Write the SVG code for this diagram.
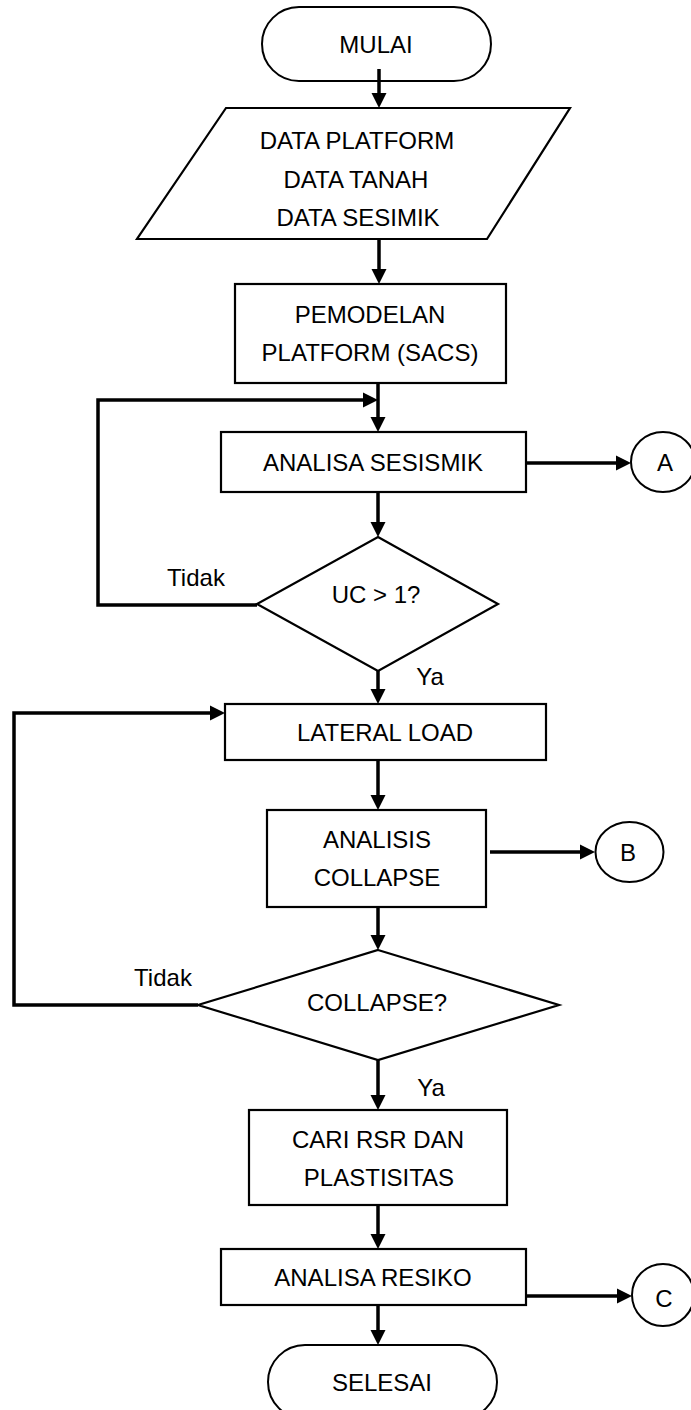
<svg xmlns="http://www.w3.org/2000/svg" width="691" height="1410" viewBox="0 0 691 1410">
  <style>
    .shape { fill: #ffffff; stroke: #000000; stroke-width: 2.2; }
    .term { fill: #ffffff; stroke: #000000; stroke-width: 2; }
    .conn { fill: none; stroke: #000000; stroke-width: 3.5; stroke-linejoin: miter; }
    .label { font-family: "Liberation Sans", Arial, sans-serif; font-size: 24px; fill: #000000; text-anchor: middle; }
  </style>
  <defs>
    <marker id="arrow" markerUnits="userSpaceOnUse" markerWidth="16" markerHeight="16" viewBox="0 0 16 16" refX="9" refY="8" orient="auto">
      <path d="M0,0.5 L15,8 L0,15.5 z" fill="#000000"/>
    </marker>
  </defs>

  <rect width="691" height="1410" fill="#ffffff"/>

  <g id="mulai">
    <rect class="term" x="262" y="7" width="229" height="74" rx="37" ry="37"/>
    <text class="label" x="376" y="53">MULAI</text>
  </g>

  <g id="data-input">
    <polygon class="shape" points="226,108 570,108 487,239 137,239"/>
    <text class="label" x="357" y="149">DATA PLATFORM</text>
    <text class="label" x="356" y="188">DATA TANAH</text>
    <text class="label" x="358" y="226">DATA SESIMIK</text>
  </g>

  <g id="pemodelan">
    <rect class="shape" x="235" y="284" width="271" height="99"/>
    <text class="label" x="370" y="323">PEMODELAN</text>
    <text class="label" x="370" y="361">PLATFORM (SACS)</text>
  </g>

  <g id="analisa-sesismik">
    <rect class="shape" x="221" y="432" width="305" height="60"/>
    <text class="label" x="373" y="471">ANALISA SESISMIK</text>
  </g>

  <g id="conn-a">
    <ellipse class="term" cx="663" cy="462" rx="32" ry="30"/>
    <text class="label" x="665" y="471">A</text>
  </g>

  <g id="uc-check">
    <polygon class="shape" points="378,537 498,604 378,671 257,604"/>
    <text class="label" x="376" y="603">UC &gt; 1?</text>
    <text class="label" x="196" y="586">Tidak</text>
    <text class="label" x="430" y="685">Ya</text>
  </g>

  <g id="lateral-load">
    <rect class="shape" x="225" y="704" width="321" height="56"/>
    <text class="label" x="385" y="741">LATERAL LOAD</text>
  </g>

  <g id="analisis-collapse">
    <rect class="shape" x="267" y="810" width="219" height="97"/>
    <text class="label" x="377" y="848">ANALISIS</text>
    <text class="label" x="377" y="886">COLLAPSE</text>
  </g>

  <g id="conn-b">
    <ellipse class="term" cx="629.5" cy="852" rx="34" ry="30"/>
    <text class="label" x="628" y="861">B</text>
  </g>

  <g id="collapse-check">
    <polygon class="shape" points="378,950 559,1005 378,1060 198,1005"/>
    <text class="label" x="377" y="1011">COLLAPSE?</text>
    <text class="label" x="163" y="986">Tidak</text>
    <text class="label" x="431" y="1096">Ya</text>
  </g>

  <g id="cari-rsr">
    <rect class="shape" x="249" y="1110" width="258" height="95"/>
    <text class="label" x="378" y="1148">CARI RSR DAN</text>
    <text class="label" x="379" y="1186">PLASTISITAS</text>
  </g>

  <g id="analisa-resiko">
    <rect class="shape" x="221" y="1249" width="305" height="56"/>
    <text class="label" x="373" y="1286">ANALISA RESIKO</text>
  </g>

  <g id="conn-c">
    <ellipse class="term" cx="663" cy="1295" rx="31" ry="31"/>
    <text class="label" x="664" y="1307">C</text>
  </g>

  <g id="selesai">
    <rect class="term" x="268" y="1345" width="229" height="74" rx="37" ry="37"/>
    <text class="label" x="382" y="1391">SELESAI</text>
  </g>

  <!-- connectors, drawn last so the first one shows inside the start terminator -->
  <g id="connectors">
    <line class="conn" x1="379" y1="69" x2="379" y2="102" marker-end="url(#arrow)"/>
    <line class="conn" x1="379" y1="239" x2="379" y2="278" marker-end="url(#arrow)"/>
    <line class="conn" x1="378" y1="383" x2="378" y2="426" marker-end="url(#arrow)"/>
    <line class="conn" x1="378" y1="492" x2="378" y2="531" marker-end="url(#arrow)"/>
    <line class="conn" x1="378" y1="671" x2="378" y2="698" marker-end="url(#arrow)"/>
    <line class="conn" x1="378" y1="760" x2="378" y2="804" marker-end="url(#arrow)"/>
    <line class="conn" x1="378" y1="907" x2="378" y2="944" marker-end="url(#arrow)"/>
    <line class="conn" x1="378" y1="1059" x2="378" y2="1104" marker-end="url(#arrow)"/>
    <line class="conn" x1="378" y1="1205" x2="378" y2="1243" marker-end="url(#arrow)"/>
    <line class="conn" x1="378" y1="1305" x2="378" y2="1339" marker-end="url(#arrow)"/>
    <!-- side exits to connectors A, B, C -->
    <line class="conn" x1="526" y1="463" x2="625" y2="463" marker-end="url(#arrow)"/>
    <line class="conn" x1="490" y1="852" x2="589" y2="852" marker-end="url(#arrow)"/>
    <line class="conn" x1="526" y1="1296" x2="626" y2="1296" marker-end="url(#arrow)"/>
    <!-- "Tidak" loops -->
    <path class="conn" d="M257,605 L98,605 L98,400 L372,400" marker-end="url(#arrow)"/>
    <path class="conn" d="M198,1005 L14,1005 L14,713 L219,713" marker-end="url(#arrow)"/>
  </g>
</svg>
